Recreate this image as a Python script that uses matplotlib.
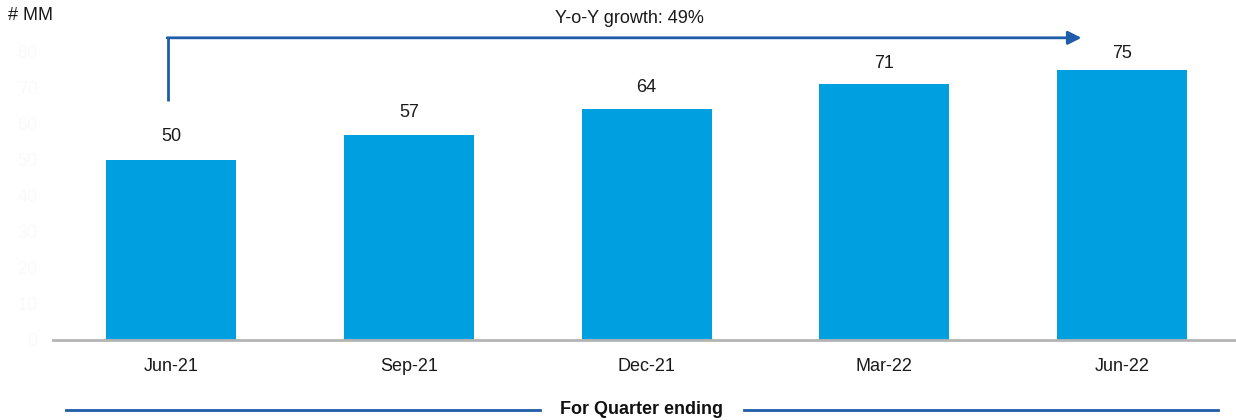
import matplotlib
matplotlib.use("Agg")
import matplotlib.pyplot as plt
from matplotlib.lines import Line2D

plt.rcParams['font.family'] = ['Liberation Sans', 'DejaVu Sans']

categories = ["Jun-21", "Sep-21", "Dec-21", "Mar-22", "Jun-22"]
values = [50, 57, 64, 71, 75]
yticks = [0, 10, 20, 30, 40, 50, 60, 70, 80]
unit_label = "# MM"
growth_label = "Y-o-Y growth: 49%"
xlabel = "For Quarter ending"

W, H = 1236, 420
fig = plt.figure(figsize=(W / 100, H / 100), dpi=100)
ax = fig.add_axes([53 / W, (H - 340) / H, (W - 53) / W, 340 / H])

bar_color = "#009FE0"
dark_blue = "#1F5DA8"

x = list(range(len(categories)))
ax.bar(x, values, width=0.547, color=bar_color, zorder=2)
label_gaps = [15, 14, 13, 12, 8]
for xi, v, g in zip(x, values, label_gaps):
    ax.annotate(str(v), (xi, v), xytext=(0, g), textcoords="offset pixels",
                ha="center", va="bottom", fontsize=13, color="#1A1A1A")

ax.set_xlim(-0.497, 4.48)
ax.set_ylim(0, 94.4)
ax.set_xticks(x)
ax.set_xticklabels(categories, fontsize=13, color="#1A1A1A")
ax.set_yticks(yticks)
ax.set_yticklabels([str(t) for t in yticks], fontsize=13, color="#FAFAFA")
ax.tick_params(axis="x", length=0, pad=13)
ax.tick_params(axis="y", length=0, pad=11)
for s in ["top", "right", "left"]:
    ax.spines[s].set_visible(False)
ax.spines["bottom"].set_color("#B4B4B4")
ax.spines["bottom"].set_linewidth(2)

# growth arrow
ax.plot([-0.013, -0.013], [66.4, 83.9], color=dark_blue, lw=2, clip_on=False,
        solid_capstyle="butt")
ax.annotate("", xy=(3.83, 83.9), xytext=(-0.013 - 0.004, 83.9),
            arrowprops=dict(arrowstyle="-|>", color=dark_blue, lw=2,
                            mutation_scale=20, shrinkA=0, shrinkB=0),
            annotation_clip=False)
ax.text(1.93, 89.4, growth_label, ha="center", va="center", fontsize=13,
        color="#1A1A1A")

fig.text(8 / W, 1 - 16 / H, unit_label, ha="left", va="center", fontsize=13,
         color="#1A1A1A")

# bottom label with lines
fig.add_artist(Line2D([66 / W, 540 / W], [1 - 410 / H] * 2, color=dark_blue, lw=2))
fig.add_artist(Line2D([744 / W, 1218 / W], [1 - 410 / H] * 2, color=dark_blue, lw=2))
fig.text(642 / W, 1 - 409 / H, xlabel, ha="center", va="center", fontsize=13,
         fontweight="bold", color="#111111")

fig.savefig("out.png", dpi=100)
